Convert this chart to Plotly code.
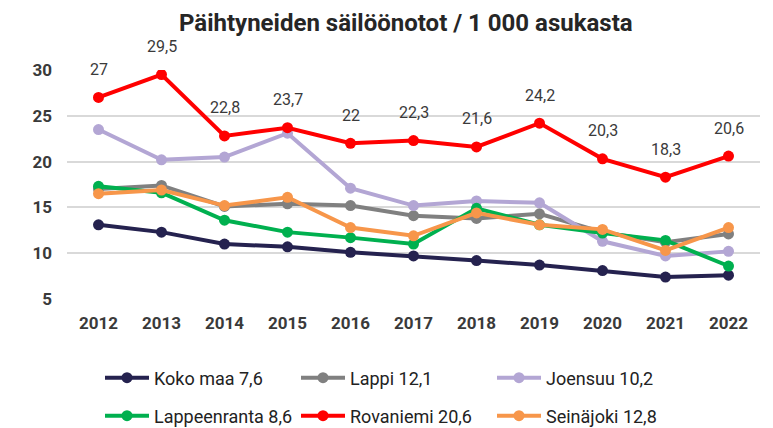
import plotly.graph_objects as go

years = ["2012", "2013", "2014", "2015", "2016", "2017", "2018", "2019", "2020", "2021", "2022"]

koko_maa = [13.1, 12.3, 11.0, 10.7, 10.1, 9.7, 9.2, 8.7, 8.1, 7.4, 7.6]
lappi = [17.0, 17.4, 15.1, 15.4, 15.2, 14.1, 13.8, 14.3, 12.3, 11.2, 12.1]
joensuu = [23.5, 20.2, 20.5, 23.1, 17.1, 15.2, 15.7, 15.5, 11.3, 9.7, 10.2]
lappeenranta = [17.3, 16.6, 13.6, 12.3, 11.7, 11.0, 14.9, 13.1, 12.2, 11.4, 8.6]
rovaniemi = [27.0, 29.5, 22.8, 23.7, 22.0, 22.3, 21.6, 24.2, 20.3, 18.3, 20.6]
seinajoki = [16.5, 16.9, 15.2, 16.1, 12.8, 11.9, 14.4, 13.1, 12.6, 10.3, 12.8]

series = [
    ("Koko maa 7,6", koko_maa, "#25224f", "legend"),
    ("Lappi 12,1", lappi, "#808080", "legend"),
    ("Joensuu 10,2", joensuu, "#b3a6d4", "legend"),
    ("Lappeenranta 8,6", lappeenranta, "#00b04f", "legend2"),
    ("Rovaniemi 20,6", rovaniemi, "#ff0000", "legend2"),
    ("Seinäjoki 12,8", seinajoki, "#f7964a", "legend2"),
]

FONT = "Roboto, 'Noto Sans', sans-serif"
TXT = "#3a3a3a"

fig = go.Figure()
for name, vals, color, leg in series:
    fig.add_trace(go.Scatter(
        x=years, y=vals, name=name, mode="lines+markers",
        line=dict(color=color, width=4),
        marker=dict(color=color, size=11),
        legend=leg,
    ))


def fmt(v):
    s = f"{v:.1f}"
    if s.endswith(".0"):
        s = s[:-2]
    return s.replace(".", ",")


# value labels above the Rovaniemi line (x given as category index)
for i, v in enumerate(rovaniemi):
    fig.add_annotation(
        x=i, y=v, text=fmt(v), showarrow=False, yshift=28,
        font=dict(family=FONT, size=16, color=TXT),
    )

legend_style = dict(
    orientation="h", xref="container", yref="container",
    xanchor="left", yanchor="middle",
    entrywidth=137, entrywidthmode="pixels",
    font=dict(family=FONT, size=18, color="#222222"),
    bgcolor="rgba(0,0,0,0)", itemwidth=44,
)

fig.update_layout(
    width=773, height=428,
    margin=dict(l=67, r=13, t=70, b=129),
    paper_bgcolor="white", plot_bgcolor="white",
    title=dict(
        text="<b>Päihtyneiden säilöönotot / 1 000 asukasta</b>",
        x=0.525, xanchor="center", y=1 - 23 / 428, yanchor="middle",
        font=dict(family=FONT, size=24, color="#262626"),
    ),
    xaxis=dict(
        type="category", range=[-0.5, len(years) - 0.5],
        showgrid=False, showline=False, ticks="",
        tickfont=dict(family=FONT, size=17, color=TXT, weight="bold"),
        ticklabelstandoff=12,
    ),
    yaxis=dict(
        range=[5, 30], tickvals=[5, 10, 15, 20, 25, 30],
        showgrid=True, gridcolor="#d9d9d9", gridwidth=2,
        zeroline=False, showline=False, ticks="",
        tickfont=dict(family=FONT, size=17, color=TXT, weight="bold"),
        ticklabelstandoff=14,
    ),
    legend=dict(x=100 / 773, y=1 - 378 / 428, **legend_style),
    legend2=dict(x=100 / 773, y=1 - 416 / 428, **legend_style),
)

fig.write_html("out.html")
